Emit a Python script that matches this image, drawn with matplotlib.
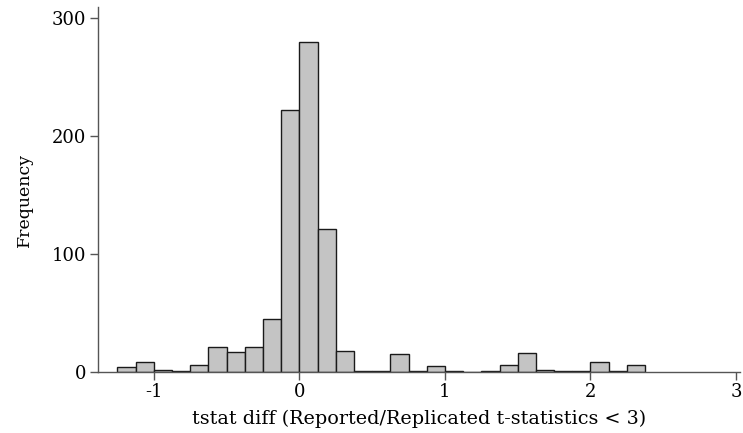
import matplotlib
matplotlib.use("Agg")
import matplotlib.pyplot as plt
import numpy as np

plt.rcParams['font.family'] = ['DejaVu Serif']

bin_start = -1.25
bin_width = 0.125
counts = [4, 8, 2, 1, 6, 21, 17, 21, 45, 222, 279, 121, 18, 1, 1, 15, 1, 5, 1, 0,
          1, 6, 16, 2, 1, 1, 8, 1, 6]
xticks = [-1, 0, 1, 2, 3]
yticks = [0, 100, 200, 300]

edges = bin_start + bin_width * np.arange(len(counts) + 1)

fig = plt.figure(figsize=(7.43, 4.33), dpi=100)
ax = fig.add_axes([0.1315, 0.141, 0.865, 0.843])
ax.bar(edges[:-1], counts, width=bin_width, align='edge',
       color='#c4c4c4', edgecolor='#1a1a1a', linewidth=1.0)
ax.set_xlim(-1.386, 3.03)
ax.set_ylim(0, 309)
ax.set_xticks(xticks)
ax.set_xticklabels([str(t) for t in xticks])
ax.set_yticks(yticks)
for s in ['top', 'right']:
    ax.spines[s].set_visible(False)
for s in ['left', 'bottom']:
    ax.spines[s].set_color('#555555')
    ax.spines[s].set_linewidth(1.0)
ax.tick_params(direction='out', length=5.5, width=1, color='#555555', labelsize=13, pad=2.5)
ax.set_xlabel('tstat diff (Reported/Replicated t-statistics < 3)', fontsize=13.8, labelpad=6)
ax.set_ylabel('Frequency', fontsize=12.5)
ax.yaxis.set_label_coords(-0.1, 0.47)
fig.savefig('out.png', dpi=100)
